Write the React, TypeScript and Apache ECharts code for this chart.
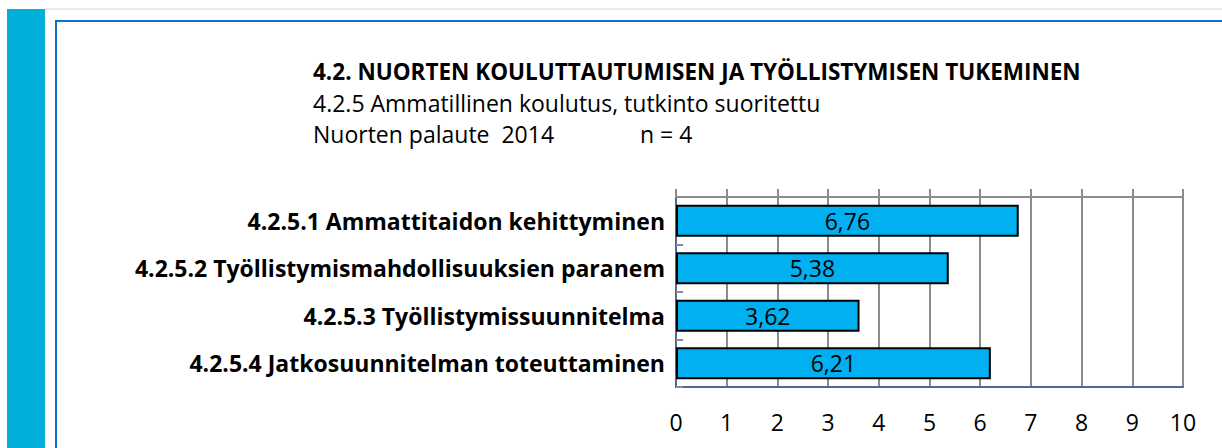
import React, { useEffect, useRef } from "react";
import * as echarts from "echarts";

const categories = [
  "4.2.5.1 Ammattitaidon kehittyminen",
  "4.2.5.2 Työllistymismahdollisuuksien paranem",
  "4.2.5.3 Työllistymissuunnitelma",
  "4.2.5.4 Jatkosuunnitelman toteuttaminen",
];
const values = [6.76, 5.38, 3.62, 6.21];
const xTicks = [0, 10, 1];
const titleText = "4.2. NUORTEN KOULUTTAUTUMISEN JA TYÖLLISTYMISEN TUKEMINEN";
const subtitle1 = "4.2.5 Ammatillinen koulutus, tutkinto suoritettu";
const subtitle2 = "Nuorten palaute  2014";
const nText = "n = 4";

const FONT = "'Open Sans', sans-serif";

export default function App() {
  const ref = useRef<HTMLDivElement>(null);
  useEffect(() => {
    if (!ref.current) return;
    const chart = echarts.init(ref.current, undefined, { renderer: "svg" });
    const gray = "#8c8c8c";
    const blue = "#4a6a9c";
    chart.setOption({
      animation: false,
      backgroundColor: "#ffffff",
      textStyle: { fontFamily: FONT },
      grid: { left: 676, right: 39, top: 197, bottom: 61, containLabel: false },
      graphic: [
        { type: "rect", shape: { x: 7, y: 9, width: 38, height: 460 }, style: { fill: "#00b0d8" }, silent: true },
        { type: "rect", shape: { x: 45, y: 8, width: 1200, height: 2 }, style: { fill: "#e6ecec" }, silent: true },
        { type: "rect", shape: { x: 55, y: 20, width: 1200, height: 2 }, style: { fill: "#1070c8" }, silent: true },
        { type: "rect", shape: { x: 55, y: 20, width: 2, height: 460 }, style: { fill: "#1070c8" }, silent: true },
        { type: "text", left: 313, top: 60, style: { text: titleText, font: `bold 22.5px ${FONT}`, fill: "#000" } },
        { type: "text", left: 313, top: 91, style: { text: subtitle1, font: `23px ${FONT}`, fill: "#000" } },
        { type: "text", left: 313, top: 122, style: { text: subtitle2, font: `23px ${FONT}`, fill: "#000" } },
        { type: "text", left: 640, top: 122, style: { text: nText, font: `23px ${FONT}`, fill: "#000" } },
      ],
      xAxis: [
        {
          type: "value",
          position: "bottom",
          min: xTicks[0],
          max: xTicks[1],
          interval: xTicks[2],
          axisLine: { show: true, lineStyle: { color: blue, width: 2 } },
          axisTick: { show: false },
          axisLabel: { color: "#000", fontSize: 23, fontFamily: FONT, margin: 23 },
          splitLine: { show: true, lineStyle: { color: gray, width: 2 } },
        },
        {
          type: "value",
          position: "top",
          min: xTicks[0],
          max: xTicks[1],
          interval: xTicks[2],
          axisLine: { show: true, onZero: false, lineStyle: { color: gray, width: 2 } },
          axisTick: { show: true, length: 8, lineStyle: { color: gray, width: 2 } },
          axisLabel: { show: false },
          splitLine: { show: false },
        },
      ],
      yAxis: [
        {
          type: "category",
          data: categories,
          inverse: true,
          axisLine: { show: true, lineStyle: { color: gray, width: 2 } },
          axisTick: { show: true, inside: true, length: 7, lineStyle: { color: gray, width: 2 } },
          axisLabel: { color: "#000", fontSize: 23, fontWeight: "bold", fontFamily: FONT, margin: 11 },
          splitLine: { show: false },
        },
        {
          type: "category",
          data: categories,
          inverse: true,
          position: "right",
          axisLine: { show: true, lineStyle: { color: blue, width: 2 } },
          axisTick: { show: false },
          axisLabel: { show: false },
          splitLine: { show: false },
        },
      ],
      series: [
        {
          type: "bar",
          xAxisIndex: 0,
          yAxisIndex: 0,
          data: values,
          barWidth: "67%",
          itemStyle: { color: "#00b0f0", borderColor: "#000", borderWidth: 2 },
          label: {
            show: true,
            position: "inside",
            color: "#000",
            fontSize: 23,
            fontFamily: FONT,
            formatter: (p: any) => String(p.value.toFixed(2)).replace(".", ","),
          },
        },
      ],
    });
    return () => chart.dispose();
  }, []);
  return (
    <div
      ref={ref}
      style={{ position: "fixed", left: 0, top: 0, width: 1222, height: 448 }}
    />
  );
}
